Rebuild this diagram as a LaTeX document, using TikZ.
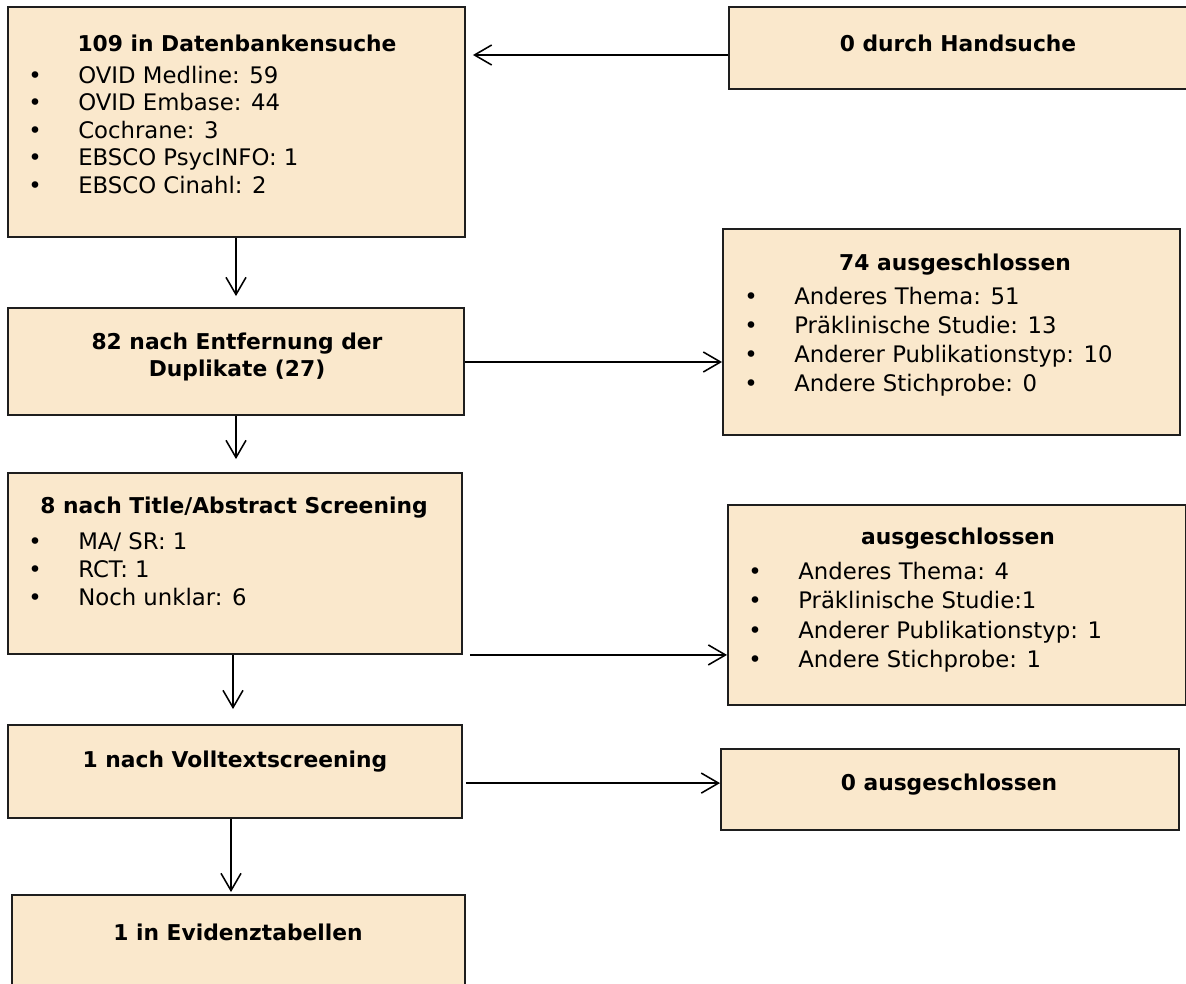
\documentclass[tikz,border=0pt]{standalone}
\usepackage{fontspec}
\setmainfont{DejaVu Sans}
\usetikzlibrary{arrows.meta}

\definecolor{boxfill}{RGB}{250,232,204}
\definecolor{boxline}{RGB}{30,30,30}
\newcommand{\bl}[1]{\makebox[1.25cm][l]{\textbullet}#1}

\tikzset{
  box/.style={draw=boxline,fill=boxfill,line width=1.3pt,inner sep=0pt},
  head/.style={font=\fontsize{15.5}{19.2}\selectfont\bfseries,align=center,inner sep=0pt},
  items/.style={font=\fontsize{16.2}{#1}\selectfont,align=left,anchor=north west,inner sep=0pt},
  arr/.style={-{Straight Barb[length=4.3mm,width=5mm]},line width=1.1pt}
}

\begin{document}
\begin{tikzpicture}[x=0.025cm,y=-0.025cm]
\useasboundingbox (0,0) rectangle (1186,984);

% boxes
\node[box,minimum width=11.425cm,minimum height=5.75cm] (search) at (236.5,122) {};
\node[box,minimum width=11.525cm,minimum height=2.05cm] (hand) at (959.5,48) {};
\node[box,minimum width=11.4cm,minimum height=2.675cm] (dup) at (236,361.5) {};
\node[box,minimum width=11.425cm,minimum height=5.15cm] (excl1) at (951.5,332) {};
\node[box,minimum width=11.35cm,minimum height=4.525cm] (title) at (235,563.5) {};
\node[box,minimum width=11.45cm,minimum height=5cm] (excl2) at (957,605) {};
\node[box,minimum width=11.35cm,minimum height=2.325cm] (full) at (235,771.5) {};
\node[box,minimum width=11.45cm,minimum height=2.025cm] (excl3) at (950,789.5) {};
\node[box,minimum width=11.325cm,minimum height=2.5cm] (evid) at (238.5,945) {};

% texts
\node[head] (search-h) at (237,43) {109 in Datenbankensuche};
\node[items=19.6pt] (search-l) at (28,65.5) {\bl{OVID Medline: 59}\\\bl{OVID Embase: 44}\\\bl{Cochrane: 3}\\\bl{EBSCO PsycINFO: 1}\\\bl{EBSCO Cinahl: 2}};
\node[head] (hand-h) at (958,43) {0 durch Handsuche};
\node[head] (dup-h) at (237,357) {82 nach Entfernung der\\Duplikate (27)};
\node[head] (excl1-h) at (955,265) {74 ausgeschlossen};
\node[items=20.6pt] (excl1-l) at (744,287) {\bl{Anderes Thema: 51}\\\bl{Präklinische Studie: 13}\\\bl{Anderer Publikationstyp: 10}\\\bl{Andere Stichprobe: 0}};
\node[head] (title-h) at (234,508) {8 nach Title/Abstract Screening};
\node[items=20.2pt] (title-l) at (28,532) {\bl{MA/ SR: 1}\\\bl{RCT: 1}\\\bl{Noch unklar: 6}};
\node[head] (excl2-h) at (958,539) {ausgeschlossen};
\node[items=20.8pt] (excl2-l) at (748,562) {\bl{Anderes Thema: 4}\\\bl{Präklinische Studie:1}\\\bl{Anderer Publikationstyp: 1}\\\bl{Andere Stichprobe: 1}};
\node[head] (full-h) at (235,762) {1 nach Volltextscreening};
\node[head] (excl3-h) at (949,785) {0 ausgeschlossen};
\node[head] (evid-h) at (238,932) {1 in Evidenztabellen};

% arrows
\draw[arr,shorten >=0.175cm] ([yshift=-0.175cm]hand.west) -- ([yshift=-0.175cm]hand.west -| search.east);
\draw[arr,shorten >=0.275cm] ([xshift=-0.0125cm]search.south) -- ([xshift=-0.0125cm]search.south |- dup.north);
\draw[arr] ([yshift=-0.0125cm]dup.east) -- ([yshift=-0.0125cm]dup.east -| excl1.west);
\draw[arr,shorten >=0.325cm] (dup.south) -- (dup.south |- title.north);
\draw[arr,shorten <=0.175cm] (title.south east) -- (title.south east -| excl2.west);
\draw[arr,shorten >=0.375cm] ([xshift=-0.05cm]title.south) -- ([xshift=-0.05cm]title.south |- full.north);
\draw[arr,shorten <=0.075cm] ([yshift=-0.29cm]full.east) -- ([yshift=-0.29cm]full.east -| excl3.west);
\draw[arr,shorten >=0.05cm] ([xshift=-0.1cm]full.south) -- ([xshift=-0.1cm]full.south |- evid.north);
\end{tikzpicture}
\end{document}
